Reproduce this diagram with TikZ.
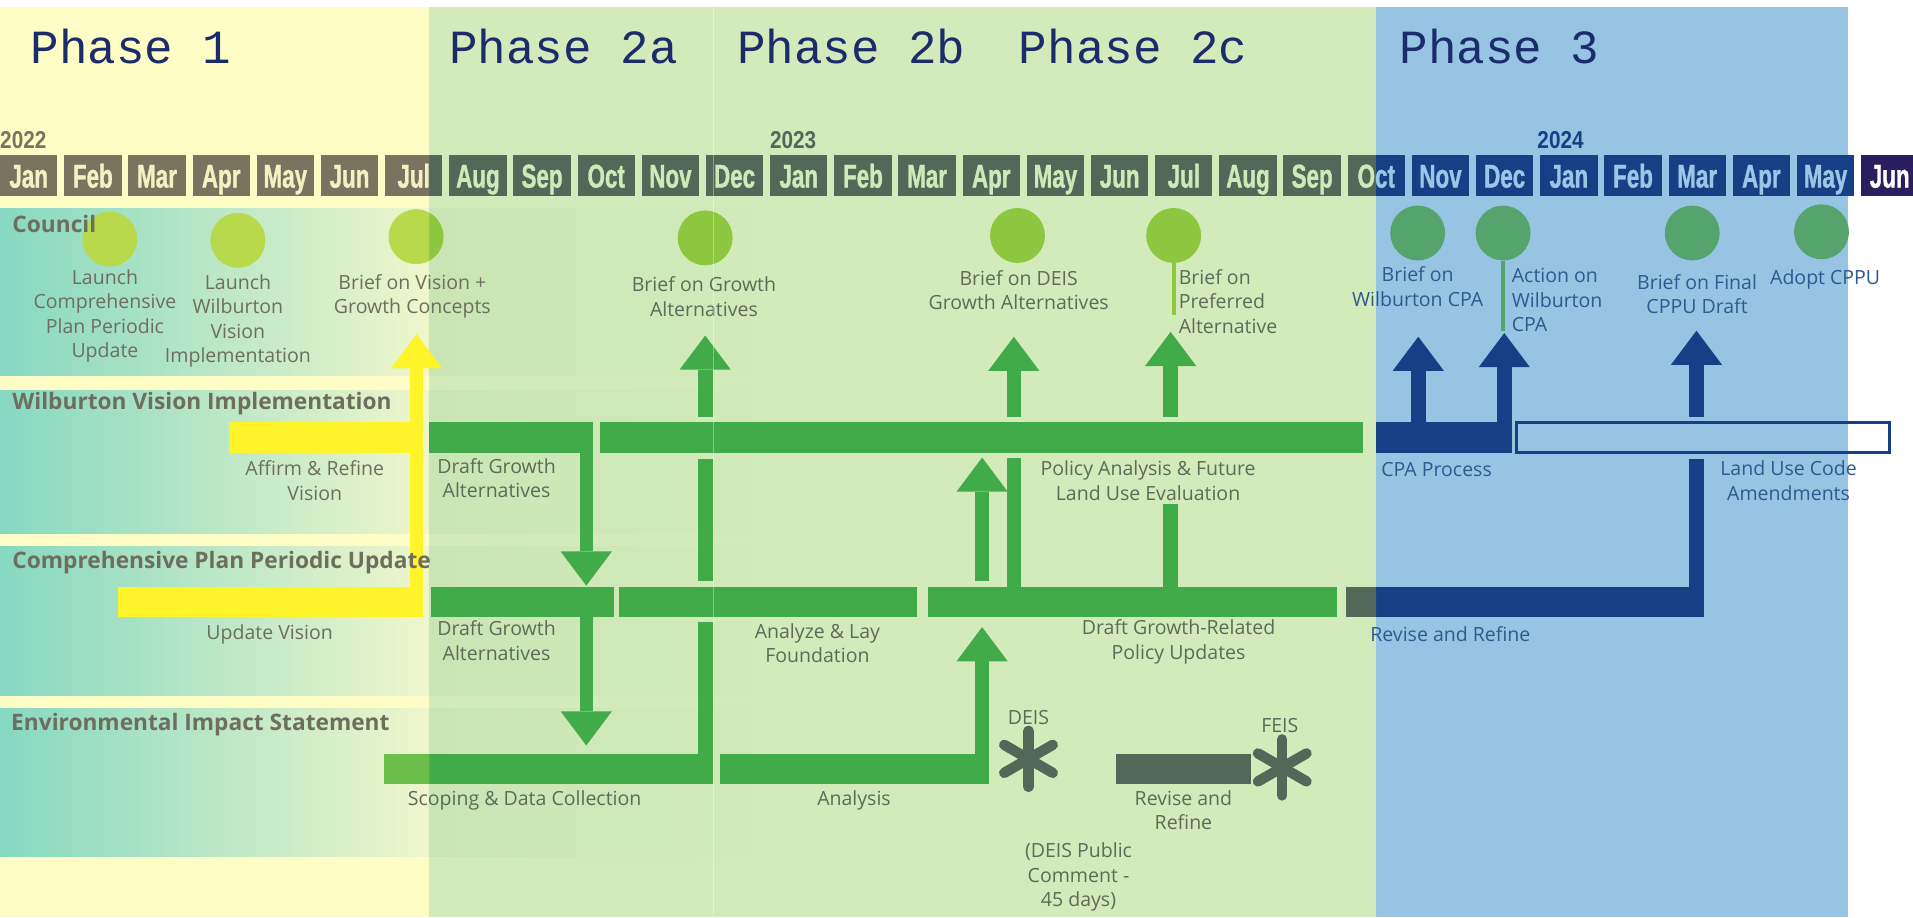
\documentclass[tikz,border=0pt]{standalone}
\usepackage{fontspec}
\setmainfont{Open Sans}
\newfontfamily\phasefont{Liberation Mono}
\newfontfamily\monthfont{Liberation Sans}[FakeStretch=0.68, FakeBold=1]
\newfontfamily\yearfont{Liberation Sans}[FakeStretch=0.85]
\usetikzlibrary{positioning, shapes.geometric, arrows.meta, calc}

% phase backgrounds
\definecolor{phyellow}{HTML}{FFFDC6}
\definecolor{phgreen}{HTML}{D3EBBB}
\definecolor{phblue}{HTML}{98C4E3}
\definecolor{phnavy}{HTML}{1B2C6B}
\definecolor{bandteal}{HTML}{86D8C2}
\definecolor{bandpale}{HTML}{EFF6CB}
\definecolor{bandgrn}{HTML}{CAE5B4}
% month boxes
\definecolor{mboxY}{HTML}{7A7360}
\definecolor{mtxtY}{HTML}{F4F1C2}
\definecolor{mboxG}{HTML}{536858}
\definecolor{mtxtG}{HTML}{CFE9B8}
\definecolor{mboxB}{HTML}{173F86}
\definecolor{mtxtB}{HTML}{9CC6E5}
\definecolor{mboxP}{HTML}{2B1E5E}
\definecolor{mtxtP}{HTML}{FFFFFF}
% bars, events, text
\definecolor{cgreen}{HTML}{41AB49}
\definecolor{lgreen}{HTML}{6CBE4A}
\definecolor{vyellow}{HTML}{FFF32A}
\definecolor{cnavy}{HTML}{173F86}
\definecolor{slate}{HTML}{536858}
\definecolor{cyel}{HTML}{B8D94C}
\definecolor{cgrn}{HTML}{8DC63F}
\definecolor{cblu}{HTML}{55A46D}
\definecolor{txtY}{HTML}{6E6E60}
\definecolor{txtG}{HTML}{5E6B58}
\definecolor{txtB}{HTML}{2D5B8F}
\definecolor{laneg}{HTML}{6E6E5E}

\begin{document}
\begin{tikzpicture}[
    x=1pt, y=-1pt,
    % --- STYLES ---
    phase/.style={font=\phasefont\fontsize{39}{40}\selectfont, text=phnavy, anchor=base west, inner sep=0},
    month/.style={rectangle, minimum width=47pt, minimum height=34pt, inner sep=0, text height=19.5pt, text depth=0pt, font=\monthfont\bfseries\fontsize{27}{28}\selectfont},
    year/.style={font=\yearfont\bfseries\fontsize{20}{20}\selectfont, anchor=base west, inner sep=0},
    lane/.style={font=\bfseries\fontsize{18.6}{20}\selectfont, text=laneg, anchor=west, inner sep=0},
    event/.style={circle, minimum size=45pt, inner sep=0},
    lbl/.style={font=\fontsize{16}{20}\selectfont, align=center, inner sep=0, text=txtG},
    bar/.style={rectangle, minimum height=25pt, inner sep=0, outer sep=0, anchor=north west},
    shaft/.style={line width=12pt, cgreen},
    blockarrow/.style={shaft, -{Triangle[width=42pt, length=28pt, line width=0pt]}},
    stem/.style={line width=3pt},
    asterisk/.style={line width=8.5pt, line cap=round, draw=slate}
]
\useasboundingbox (0,0) rectangle (1568,752);

% --- BACKGROUND: PHASES AND LANES ---
\fill[white] (0,0) rectangle (1568,752);
\fill[phyellow] (0,6) rectangle (352,752);
\fill[phgreen] (352,6) rectangle (1128,752);
\fill[phblue] (1128,6) rectangle (1515,752);
\foreach \t/\b in {171/308, 320/437, 448/570, 581/702} {
  \shade[left color=bandteal, right color=bandpale] (0,\t) rectangle (352,\b);
  \shade[left color=bandgrn, right color=phgreen] (352,\t) rectangle (640,\b);
}
\coordinate (cut2b) at (585,6);

\node[phase] (ph1) at (25,52) {Phase 1};
\node[phase] (ph2a) at (368,52) {Phase 2a};
\node[phase] (ph2b) at (604,52) {Phase 2b};
\node[phase] (ph2c) at (835,52) {Phase 2c};
\node[phase] (ph3) at (1147,52) {Phase 3};

% --- MONTHS ---
\node[year, text=mboxY] (y22) at (0,122) {2022};
\node[year, text=mboxG] (y23) at (631,122) {2023};
\node[year, text=mboxB] (y24) at (1260,122) {2024};
\foreach \m [count=\i from 0] in {Jan,Feb,Mar,Apr,May,Jun,Jul,Aug,Sep,Oct,Nov,Dec,Jan,Feb,Mar,Apr,May,Jun,Jul,Aug,Sep,Oct,Nov,Dec,Jan,Feb,Mar,Apr,May,Jun} {
  \ifnum\i<7 \def\mcol{Y}\else\ifnum\i<22 \def\mcol{G}\else\ifnum\i<29 \def\mcol{B}\else\def\mcol{P}\fi\fi\fi
  \node[month, fill=mbox\mcol, text=mtxt\mcol] (m\i) at ({52.6*\i+23.5},144) {\m};
}
\begin{scope}
  \clip (352,120) rectangle (370,170);
  \node[month, fill=mboxG, text=mtxtG] (m6g) at (m6) {Jul};
\end{scope}
\begin{scope}
  \clip (1128,120) rectangle (1160,170);
  \node[month, fill=mboxB, text=mtxtB] (m21b) at (m21) {Oct};
\end{scope}

% --- COUNCIL EVENTS ---
\node[event, fill=cyel] (launchcp) at (90,196) {};
\node[event, fill=cyel] (launchwv) at (195,197) {};
\node[event, fill=cyel] (briefvision) at (341,194) {};
\begin{scope}
  \clip (352,160) rectangle (380,230);
  \fill[cgrn] (briefvision.center) circle[radius=22.5];
\end{scope}
\node[event, fill=cgrn] (briefgrowth) at (578,195) {};
\node[event, fill=cgrn] (briefdeis) at (834,193) {};
\node[event, fill=cgrn] (briefpref) at (962,193) {};
\node[event, fill=cblu] (briefcpa) at (1162,191) {};
\node[event, fill=cblu] (actioncpa) at (1232,191) {};
\node[event, fill=cblu] (brieffinal) at (1387,191) {};
\node[event, fill=cblu] (adopt) at (1493,190) {};

\coordinate (prefend) at (962,258);
\coordinate (actionend) at (1232,271);
\draw[stem, cgrn] (briefpref) -- (prefend);
\draw[stem, cblu] (actioncpa) -- (actionend);

\node[lbl, text=txtY] (launchcptxt) at (86,259) {Launch\\Comprehensive\\Plan Periodic\\Update};
\node[lbl, text=txtY] (launchwvtxt) at (195,263) {Launch\\Wilburton\\Vision\\Implementation};
\node[lbl, text=txtY] (briefvisiontxt) at (338,243) {Brief on Vision +\\Growth Concepts};
\node[lbl] (briefgrowthtxt) at (577,243) {Brief on Growth\\Alternatives};
\node[lbl] (briefdeistxt) at (835,238) {Brief on DEIS\\Growth Alternatives};
\node[lbl, align=left, anchor=west] (briefpreftxt) at (966,247) {Brief on\\Preferred\\Alternative};
\node[lbl, text=txtB] (briefcpatxt) at (1162,235) {Brief on\\Wilburton CPA};
\node[lbl, text=txtB, align=left, anchor=west] (actioncpatxt) at (1239,246) {Action on\\Wilburton\\CPA};
\node[lbl, text=txtB] (brieffinaltxt) at (1391,241) {Brief on Final\\CPPU Draft};
\node[lbl, text=txtB] (adopttxt) at (1496,229) {Adopt CPPU};

% --- WILBURTON BARS ---
\node[bar, fill=vyellow, minimum width=154pt] (wvaffirm) at (188,346) {};
\node[bar, fill=cgreen, minimum width=134pt] (wvdraft) at (352,346) {};
\node[bar, fill=cgreen, minimum width=625pt] (wvpolicy) at (492,346) {};
\node[bar, fill=cnavy, minimum width=111pt] (wvcpa) at (1128,346) {};
\node[bar, draw=cnavy, line width=2.5pt, minimum width=306pt, minimum height=25pt] (wvcode) at (1243,346) {};

% --- CPPU BARS ---
\node[bar, fill=vyellow, minimum width=250pt] (cpvision) at (97,481) {};
\node[bar, fill=cgreen, minimum width=150pt] (cpdraft) at (353,481) {};
\node[bar, fill=cgreen, minimum width=245pt] (cpanalyze) at (507,481) {};
\node[bar, fill=cgreen, minimum width=335pt] (cppolicy) at (761,481) {};
\node[bar, fill=cnavy, minimum width=294pt] (cprevise) at (1103,481) {};
\begin{scope}
  \clip (1090,470) rectangle (1128,520);
  \fill[slate] (cprevise.north west) rectangle (cprevise.south east);
\end{scope}

% --- EIS BARS ---
\node[bar, fill=cgreen, minimum width=269pt] (eisscope) at (315,618) {};
\begin{scope}
  \clip (300,600) rectangle (352,660);
  \fill[lgreen] (eisscope.north west) rectangle (eisscope.south east);
\end{scope}
\node[bar, fill=cgreen, minimum width=221pt] (eisanalysis) at (590,618) {};
\node[bar, fill=slate, minimum width=110pt] (eisrevise) at (915,618) {};

\coordinate (deis) at (843,622);
\coordinate (feis) at (1051,629);
\foreach \a in {90,30,150} {
  \draw[asterisk] ($(deis)+(\a:23)$) -- ($(deis)+(\a+180:23)$);
  \draw[asterisk] ($(feis)+(\a:23)$) -- ($(feis)+(\a+180:23)$);
}

% --- FLOWS ---
% yellow: vision work up to council
\coordinate (tipA) at (341.5,274);
\draw[blockarrow, vyellow, line width=11pt] (tipA |- cpvision.south) -- (tipA);

% growth alternatives brief
\coordinate (tipB) at (578,275);
\draw[shaft] (tipB |- eisscope.south) -- ($(tipB |- cpanalyze.south)+(0,4)$);
\draw[shaft] ($(tipB |- cpanalyze.north)+(0,-5)$) -- ($(tipB |- wvpolicy.south)+(0,5)$);
\draw[blockarrow] ($(tipB |- wvpolicy.north)+(0,-4)$) -- (tipB);

% draft alternatives down the lanes
\coordinate (tipC1) at (480.5,480);
\coordinate (tipC2) at (480.5,611);
\draw[blockarrow, line width=11pt] (tipC1 |- wvdraft.south) -- (tipC1);
\draw[blockarrow, line width=11pt] (tipC2 |- cpdraft.south) -- (tipC2);

% DEIS analysis up
\coordinate (tipD1) at (805,514);
\coordinate (tipD2) at (805,375);
\draw[blockarrow] (tipD1 |- eisanalysis.south) -- (tipD1);
\draw[blockarrow] ($(tipD2 |- cppolicy.north)+(0,-5)$) -- (tipD2);

\coordinate (tipE) at (831,276);
\draw[shaft] (tipE |- cppolicy.north) -- ($(tipE |- wvpolicy.south)+(0,4)$);
\draw[blockarrow] ($(tipE |- wvpolicy.north)+(0,-4)$) -- (tipE);

\coordinate (tipF) at (959.5,272);
\coordinate (endF) at (959.5,413);
\draw[shaft] (tipF |- cppolicy.north) -- (endF);
\draw[blockarrow] ($(tipF |- wvpolicy.north)+(0,-4)$) -- (tipF);

% phase 3
\coordinate (tipG) at (1162.5,276);
\coordinate (tipH) at (1233,273);
\draw[blockarrow, cnavy] (tipG |- wvcpa.south) -- (tipG);
\draw[blockarrow, cnavy] (tipH |- wvcpa.south) -- (tipH);

\coordinate (tipI) at (1390.5,271);
\draw[shaft, cnavy] (tipI |- cprevise.south) -- ($(tipI |- wvcode.south)+(0,5)$);
\draw[blockarrow, cnavy] ($(tipI |- wvcode.north)+(0,-4)$) -- (tipI);

% --- LANE TITLES (on top) ---
\node[lane] (council) at (10,184) {Council};
\node[lane] (wilburton) at (10,331) {Wilburton Vision Implementation};
\node[lane] (cppu) at (10,461) {Comprehensive Plan Periodic Update};
\node[lane] (eis) at (9,594) {Environmental Impact Statement};

% --- BAR LABELS ---
\node[lbl, text=txtY] (wvaffirmtxt) at (258,394) {Affirm \& Refine\\Vision};
\node[lbl] (wvdrafttxt) at (407,392) {Draft Growth\\Alternatives};
\node[lbl] (wvpolicytxt) at (941,394) {Policy Analysis \& Future\\Land Use Evaluation};
\node[lbl, text=txtB, anchor=west] (wvcpatxt) at (1132,385) {CPA Process};
\node[lbl, text=txtB] (wvcodetxt) at (1466,394) {Land Use Code\\Amendments};

\node[lbl, text=txtY] (cpvisiontxt) at (221,520) {Update Vision};
\node[lbl] (cpdrafttxt) at (407,525) {Draft Growth\\Alternatives};
\node[lbl] (cpanalyzetxt) at (670,527) {Analyze \& Lay\\Foundation};
\node[lbl] (cppolicytxt) at (966,526) {Draft Growth-Related\\Policy Updates};
\node[lbl, text=txtB, anchor=west] (cprevisetxt) at (1123,520) {Revise and Refine};

\node[lbl] (eisscopetxt) at (430,656) {Scoping \& Data Collection};
\node[lbl] (eisanalysistxt) at (700,656) {Analysis};
\node[lbl] (eisrevisetxt) at (970,664) {Revise and\\Refine};
\node[lbl] (deistxt) at (843,588) {DEIS};
\node[lbl] (feistxt) at (1049,595) {FEIS};
\node[lbl] (commenttxt) at (884,719) {(DEIS Public\\Comment -\\45 days)};

\draw[white, opacity=0.35, line width=0.8pt] (cut2b) -- (cut2b |- 0,752);
\end{tikzpicture}
\end{document}
